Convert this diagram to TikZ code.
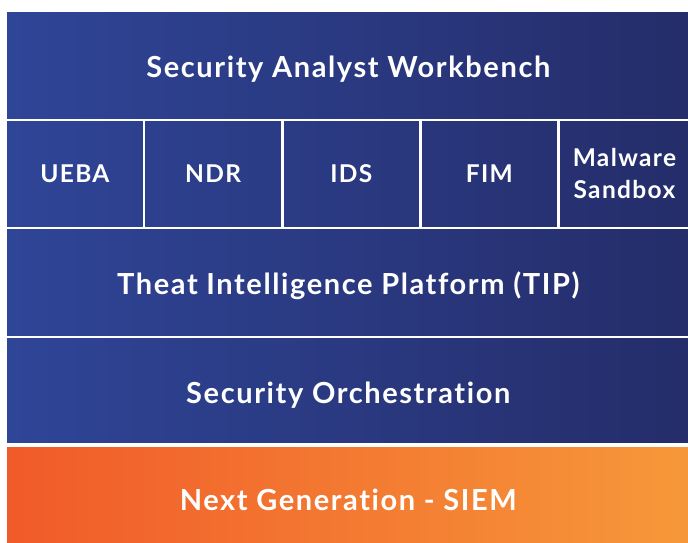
\documentclass[tikz,border=0pt]{standalone}
\usepackage{fontspec}
\setmainfont{Lato}[Ligatures=NoCommon, LetterSpace=5.5]
\definecolor{bluelight}{HTML}{2F4597}
\definecolor{bluedark}{HTML}{252D6A}
\definecolor{orangeleft}{HTML}{F15A29}
\definecolor{orangeright}{HTML}{F6983A}
\begin{document}
\begin{tikzpicture}[x=1pt, y=-1pt,
        layer/.style={draw=white, line width=2.6pt, anchor=north west, inner sep=0pt,
            minimum width=684.6pt, minimum height=#1, text=white,
            text height=24pt, text depth=0pt,
            font=\bfseries\fontsize{29}{34}\selectfont},
        cell/.style={layer=108pt, text height=, text depth=,
            font=\bfseries\fontsize{24.5}{32}\selectfont, align=center}]
        \useasboundingbox (0,0) rectangle (688,542);
        \shade[left color=bluelight, right color=bluedark] (6,11.1) rectangle (688,442.7);
        \shade[left color=orangeleft, right color=orangeright] (6,445.3) rectangle (688,542);

        \node[layer=108.7pt] (workbench) at (4.7,9.8) {Security Analyst Workbench};
        \foreach \a/\b/\t [count=\i] in {4.7/142.5/UEBA, 142.5/281/NDR, 281/419/IDS, 419/557/FIM, 557/689.3/{Malware\\Sandbox}}
            \node[cell, minimum width={(\b-\a)*1pt}] (tool\i) at (\a,118.5) {\t};
        \node[layer=109pt] (tip) at (4.7,226.5) {Theat Intelligence Platform (TIP)};
        \node[layer=108.5pt] (orch) at (4.7,335.5) {Security Orchestration};
        \node[layer=99.3pt, text height=31pt] (siem) at (4.7,444) {Next Generation - SIEM};
    \end{tikzpicture}
\end{document}
